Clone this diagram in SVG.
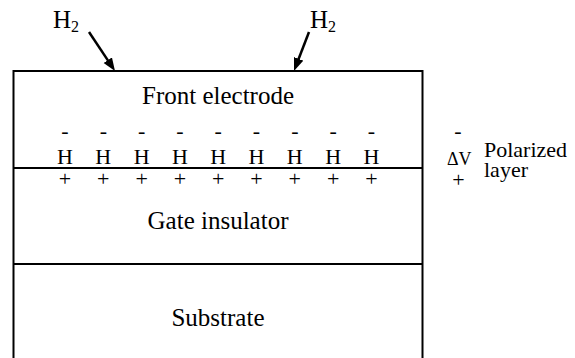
<svg xmlns="http://www.w3.org/2000/svg" width="575" height="358" viewBox="0 0 575 358" font-family="'Liberation Serif', 'DejaVu Serif', serif">
<style>
text{font-family:'Liberation Serif','DejaVu Serif',serif;fill:#000}
.lbl{font-size:25px;text-anchor:middle}
.h{font-size:22px;text-anchor:middle}
.s{font-size:22px}
.frame{fill:none;stroke:#000;stroke-width:2}
.arr{stroke:#000;stroke-width:2.5;fill:none;marker-end:url(#ah)}
</style>
<defs>
<marker id="ah" markerUnits="userSpaceOnUse" markerWidth="14" markerHeight="11" refX="5" refY="5" orient="auto">
<path d="M0,0 L13,5 L0,10 z" fill="#000"/>
</marker>
</defs>
<g id="stack">
<path class="frame" d="M13.5,358 V71 H422.5 V358"/>
<line class="frame" x1="13.5" y1="168" x2="422.5" y2="168"/>
<line class="frame" x1="13.5" y1="264" x2="422.5" y2="264"/>
</g>
<g id="front-electrode"><text class="lbl" x="218" y="104">Front electrode</text></g>
<g id="gate-insulator"><text class="lbl" x="218" y="229">Gate insulator</text></g>
<g id="substrate"><text class="lbl" x="218" y="326">Substrate</text></g>
<g id="h2-left"><text x="53" y="28" font-size="25">H<tspan font-size="16" dy="4">2</tspan></text></g>
<g id="h2-right"><text x="310" y="28" font-size="25">H<tspan font-size="16" dy="4">2</tspan></text></g>
<g id="connectors">
<line class="arr" x1="89" y1="32" x2="110.56" y2="64.34"/>
<line class="arr" x1="309" y1="32" x2="296.87" y2="63.53"/>
</g>
<g id="polarized-layer">
<g class="h">
<text x="65" y="137.7">-</text><text x="103.3" y="137.7">-</text><text x="141.6" y="137.7">-</text><text x="179.9" y="137.7">-</text><text x="218.2" y="137.7">-</text><text x="256.5" y="137.7">-</text><text x="294.8" y="137.7">-</text><text x="333.1" y="137.7">-</text><text x="371.4" y="137.7">-</text>
<text x="65" y="163.5">H</text><text x="103.3" y="163.5">H</text><text x="141.6" y="163.5">H</text><text x="179.9" y="163.5">H</text><text x="218.2" y="163.5">H</text><text x="256.5" y="163.5">H</text><text x="294.8" y="163.5">H</text><text x="333.1" y="163.5">H</text><text x="371.4" y="163.5">H</text>
<text x="65" y="186">+</text><text x="103.3" y="186">+</text><text x="141.6" y="186">+</text><text x="179.9" y="186">+</text><text x="218.2" y="186">+</text><text x="256.5" y="186">+</text><text x="294.8" y="186">+</text><text x="333.1" y="186">+</text><text x="371.4" y="186">+</text>
</g>
</g>
<g id="delta-v">
<text class="h" x="458" y="137.7">-</text>
<text x="447" y="165" font-size="18">ΔV</text>
<text class="h" x="458.5" y="187.3">+</text>
<text class="s" x="484" y="157">Polarized</text>
<text class="s" x="484" y="177">layer</text>
</g>
</svg>
